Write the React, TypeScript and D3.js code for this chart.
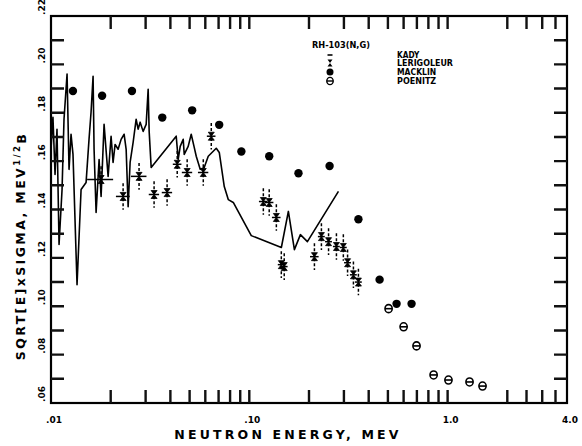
import React from 'react';
import * as d3 from 'd3';

// Rh-103 (n,g): sqrt(E) x sigma vs neutron energy

// Evaluated / high-resolution curve (KADY)
const kadyE = [0.0100, 0.01023, 0.01048, 0.01072, 0.01098, 0.01137, 0.01163, 0.01205, 0.01233, 0.01262,
  0.01291, 0.01353, 0.01418, 0.01503, 0.01555, 0.01592, 0.01630, 0.01649, 0.01688, 0.01748,
  0.01789, 0.01852, 0.01941, 0.02009, 0.02056, 0.02105, 0.02180, 0.02257, 0.02338, 0.02393,
  0.02449, 0.02506, 0.02595, 0.02687, 0.02750, 0.02815, 0.02915, 0.03019, 0.03090, 0.03126,
  0.03200, 0.04280, 0.04379, 0.04483, 0.04642, 0.04697, 0.04918, 0.05094, 0.05276, 0.05400,
  0.05655, 0.05925, 0.06208, 0.06813, 0.07056, 0.07477, 0.07833, 0.08302, 0.1023, 0.1451,
  0.1574, 0.1688, 0.1810, 0.1963, 0.2815];
const kadyV = [0.1649, 0.1781, 0.1545, 0.1732, 0.1255, 0.1483, 0.1773, 0.1960, 0.1566, 0.1711,
  0.1628, 0.1089, 0.1483, 0.1512, 0.1690, 0.1802, 0.1951, 0.1649, 0.1388, 0.1607,
  0.1454, 0.1752, 0.1537, 0.1703, 0.1595, 0.1669, 0.1649, 0.1690, 0.1711, 0.1649,
  0.1412, 0.1595, 0.1678, 0.1773, 0.1732, 0.1761, 0.1723, 0.1752, 0.1897, 0.1723,
  0.1574, 0.1703, 0.1607, 0.1661, 0.1690, 0.1628, 0.1661, 0.1711, 0.1657, 0.1620,
  0.1566, 0.1574, 0.1620, 0.1653, 0.1636, 0.1495, 0.1441, 0.1429, 0.1292, 0.1243,
  0.1392, 0.1234, 0.1296, 0.1267, 0.1475];

// LERIGOLEUR: energy, value, fractional energy half-width
const rigoleurE = [0.01789, 0.0231, 0.0278, 0.0331, 0.0385, 0.0433, 0.0486, 0.0586, 0.0643, 0.1177,
  0.126, 0.1369, 0.145, 0.150, 0.213, 0.231, 0.251, 0.275, 0.298, 0.313, 0.335, 0.355];
const rigoleurV = [0.1524, 0.1454, 0.1537, 0.1462, 0.1470, 0.1587, 0.1553, 0.1553, 0.1703, 0.1433,
  0.1429, 0.1367, 0.1172, 0.1164, 0.1205, 0.1288, 0.1267, 0.1247, 0.1243, 0.1180, 0.1130, 0.1100];
const rigoleurDE = [0.15, 0.08, 0.09, 0.06, 0.06, 0.05, 0.06, 0.06, 0.05, 0.05,
  0.05, 0.05, 0.04, 0.04, 0.05, 0.04, 0.04, 0.04, 0.04, 0.04, 0.04, 0.04];
const rigoleurErr = 0.0055;

// MACKLIN
const macklinE = [0.0129, 0.0181, 0.0256, 0.0364, 0.0515, 0.0705, 0.0912, 0.126, 0.177, 0.254,
  0.355, 0.454, 0.553, 0.658];
const macklinV = [0.189, 0.187, 0.189, 0.178, 0.181, 0.175, 0.164, 0.162, 0.155, 0.158,
  0.136, 0.111, 0.101, 0.101];

// POENITZ
const poenitzE = [0.504, 0.600, 0.697, 0.850, 1.01, 1.29, 1.50];
const poenitzV = [0.0990, 0.0915, 0.0836, 0.0716, 0.0695, 0.0687, 0.0670];

// Axes
const xTickValues = [0.02, 0.03, 0.04, 0.05, 0.06, 0.07, 0.08, 0.09, 0.1,
  0.2, 0.3, 0.4, 0.5, 0.6, 0.7, 0.8, 0.9, 1.0, 2.0, 2.5, 3.0, 3.5];
const xLabelValues = [0.01, 0.1, 1.0, 4.0];
const xLabels = ['.01', '.10', '1.0', '4.0'];
const yTickValues = [0.07, 0.08, 0.09, 0.10, 0.11, 0.12, 0.13, 0.14, 0.15, 0.16, 0.17, 0.18, 0.19, 0.20, 0.21];
const yLabelValues = [0.06, 0.08, 0.10, 0.12, 0.14, 0.16, 0.18, 0.20, 0.22];
const yLabels = ['.06', '.08', '.10', '.12', '.14', '.16', '.18', '.20', '.22'];

const legendTitle = 'RH-103(N,G)';
const legendNames = ['KADY', 'LERIGOLEUR', 'MACKLIN', 'POENITZ'];

const W = 582;
const H = 446;
const X0 = 51, X1 = 567, Y0 = 16, Y1 = 403;
const FONT = '"DejaVu Sans", "Liberation Sans", sans-serif';

export default function App() {
  const x = d3.scaleLog().domain([0.01, 4.0]).range([X0, X1]);
  const y = d3.scaleLinear().domain([0.06, 0.22]).range([Y1, Y0]);

  const kady = kadyE.map((e, i) => [e, kadyV[i]] as [number, number]);
  const curve = d3.line<[number, number]>().x(d => x(d[0])).y(d => y(d[1]));

  const hourglass = (s: number) => `M${-s},${-s - 1}L${s},${-s - 1}L${-s},${s + 1}L${s},${s + 1}Z`;

  const tickLen = 13;
  const tickPath = [
    ...xTickValues.map(v => `M${x(v)},${Y1}V${Y1 - tickLen}M${x(v)},${Y0}V${Y0 + tickLen}`),
    ...yTickValues.map(v => `M${X0},${y(v)}H${X0 + tickLen}M${X1},${y(v)}H${X1 - tickLen}`),
  ].join('');

  const legX = 330;
  const legTextX = 397;
  const legY = [55, 63, 72, 81];

  return (
    <svg width={W} height={H} style={{ position: 'absolute', left: 0, top: 0, background: '#fff' }}
      fontFamily={FONT}>
      {/* KADY curve */}
      <path d={curve(kady) || ''} fill="none" stroke="#000" strokeWidth={1.6} strokeLinejoin="round" />

      {/* LERIGOLEUR */}
      {rigoleurE.map((e, i) => {
        const cx = x(e), cy = y(rigoleurV[i]);
        return (
          <g key={'lr' + i}>
            <line x1={cx} x2={cx} y1={y(rigoleurV[i] + rigoleurErr)} y2={y(rigoleurV[i] - rigoleurErr)}
              stroke="#000" strokeWidth={1.5} strokeDasharray="3,2" />
            <line x1={x(e * (1 - rigoleurDE[i]))} x2={x(e * (1 + rigoleurDE[i]))} y1={cy} y2={cy}
              stroke="#000" strokeWidth={1.5} />
            <path d={hourglass(3)} transform={`translate(${cx},${cy})`} fill="#000" stroke="#000" strokeWidth={0.8} />
          </g>
        );
      })}

      {/* MACKLIN */}
      {macklinE.map((e, i) => (
        <circle key={'mk' + i} cx={x(e)} cy={y(macklinV[i])} r={4.2} fill="#000" />
      ))}

      {/* POENITZ */}
      {poenitzE.map((e, i) => {
        const cx = x(e), cy = y(poenitzV[i]);
        return (
          <g key={'pz' + i} stroke="#000" strokeWidth={1.6} fill="none">
            <ellipse cx={cx} cy={cy} rx={3.6} ry={4} />
            <line x1={cx - 3.6} x2={cx + 3.6} y1={cy} y2={cy} />
          </g>
        );
      })}

      {/* frame with inward tick marks */}
      <rect x={X0} y={Y0} width={X1 - X0} height={Y1 - Y0} fill="none" stroke="#000" strokeWidth={2.2} />
      <path d={tickPath} fill="none" stroke="#111" strokeWidth={2.4} />

      {/* x tick labels */}
      {xLabelValues.map((v, i) => (
        <text key={'xl' + i} x={x(v) + 3} y={423} fontSize={9} fontWeight="bold" textAnchor="middle">
          {xLabels[i]}
        </text>
      ))}
      {/* y tick labels, rotated */}
      {yLabelValues.map((v, i) => (
        <text key={'yl' + i} transform={`translate(45,${y(v) - 1}) rotate(-90)`} fontSize={9}
          fontWeight="bold" textAnchor="start">
          {yLabels[i]}
        </text>
      ))}

      {/* axis titles */}
      <text x={288} y={439} fontSize={12.5} fontWeight="bold" textAnchor="middle" letterSpacing={3.2}>
        NEUTRON  ENERGY, MEV
      </text>
      <text transform="translate(25,246) rotate(-90)" fontSize={12.5} fontWeight="bold" textAnchor="middle"
        letterSpacing={2.4}>
        SQRT[E]xSIGMA, MEV<tspan fontSize={8.5} dy={-5}>1/2</tspan><tspan dy={6}>B</tspan>
      </text>

      {/* legend */}
      <text x={312} y={48} fontSize={8} fontWeight="bold" textLength={58} lengthAdjust="spacingAndGlyphs">
        {legendTitle}
      </text>
      <line x1={legX - 2.5} x2={legX + 2.5} y1={legY[0]} y2={legY[0]} stroke="#000" strokeWidth={1.6} />
      <path d={hourglass(2.5)} transform={`translate(${legX},${legY[1]})`} fill="#000" />
      <circle cx={legX} cy={legY[2]} r={3.5} fill="#000" />
      <g stroke="#000" strokeWidth={1.4} fill="none">
        <ellipse cx={legX} cy={legY[3]} rx={3.2} ry={3.6} />
        <line x1={legX - 3.2} x2={legX + 3.2} y1={legY[3]} y2={legY[3]} />
      </g>
      {legendNames.map((n, i) => (
        <text key={'ln' + i} x={legTextX} y={legY[i] + 3} fontSize={8} fontWeight="bold"
          textLength={n.length * 5.6} lengthAdjust="spacingAndGlyphs">
          {n}
        </text>
      ))}
    </svg>
  );
}
